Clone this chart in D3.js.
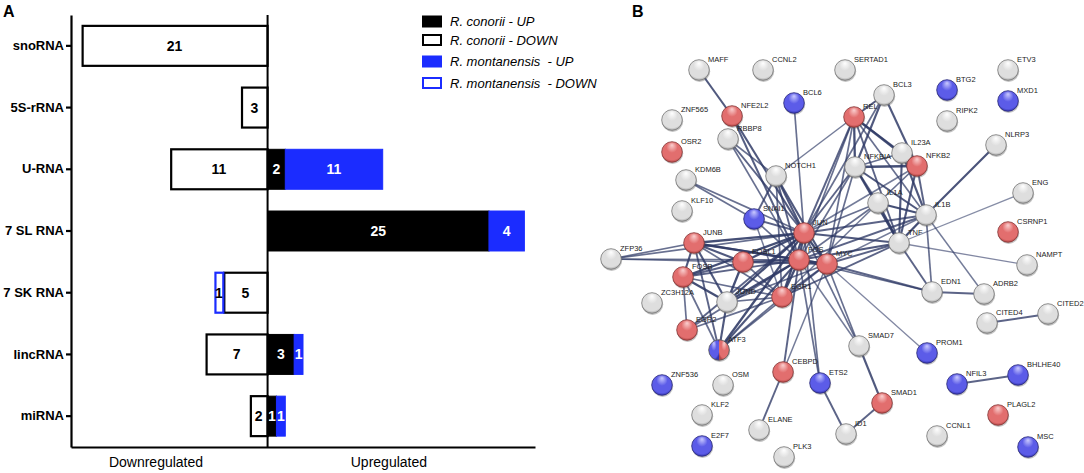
<!DOCTYPE html>
<html>
<head>
<meta charset="utf-8">
<script src="https://cdn.jsdelivr.net/npm/d3@7"></script>
<style>
  html, body { margin: 0; padding: 0; background: #fff; }
  svg { display: block; font-family: Arial, "Liberation Sans", sans-serif; }
</style>
</head>
<body>
<script>
// ---- panel A data ----
var categories = ["snoRNA", "5S-rRNA", "U-RNA", "7 SL RNA", "7 SK RNA", "lincRNA", "miRNA"];
var conoriiUp = [0, 0, 2, 25, 0, 3, 1];
var conoriiDown = [21, 3, 11, 0, 5, 7, 2];
var montanensisUp = [0, 0, 11, 4, 0, 1, 1];
var montanensisDown = [0, 0, 0, 0, 1, 0, 0];
var legendLabels = ["R. conorii - UP", "R. conorii - DOWN", "R. montanensis\u00a0 - UP", "R. montanensis\u00a0 - DOWN"];

// ---- panel B data (STRING network) ----
// name, layout x, layout y, group (0 none, 1 up, 2 down, 3 both)
var nodes = [
  ["MAFF", 99, 70, 0], ["CCNL2", 163, 70, 0], ["SERTAD1", 245, 70, 0], ["ETV3", 408, 70, 0],
  ["BTG2", 347, 90, 2], ["MXD1", 408, 101, 2], ["BCL6", 194, 103, 2], ["BCL3", 284, 95, 0],
  ["RIPK2", 347, 121, 0], ["NFE2L2", 132, 116, 1], ["ZNF565", 72, 120, 0], ["REL", 254, 117, 1],
  ["RBBP8", 128, 139, 0], ["OSR2", 72, 152, 1], ["NLRP3", 396, 145, 0], ["IL23A", 302, 153, 0],
  ["NFKB2", 317, 166, 1], ["NOTCH1", 176, 176, 0], ["KDM6B", 86, 180, 0], ["NFKBIA", 255, 167, 0],
  ["ENG", 423, 193, 0], ["IL1A", 278, 203, 0], ["KLF10", 82, 211, 0], ["IL1B", 326, 215, 0],
  ["SNAI1", 154, 219, 2], ["JUN", 204, 233, 1], ["CSRNP1", 408, 232, 1], ["TNF", 299, 243, 0],
  ["JUNB", 94, 243, 1], ["ZFP36", 11, 259, 0], ["FOSL1", 143, 262, 1], ["FOS", 199, 260, 1],
  ["MYC", 227, 264, 1], ["FOSB", 83, 277, 1], ["NAMPT", 427, 265, 0], ["EDN1", 332, 292, 0],
  ["ADRB2", 384, 294, 0], ["EGR1", 182, 297, 1], ["JUND", 127, 302, 0], ["ZC3H12A", 52, 303, 0],
  ["CITED4", 387, 323, 0], ["CITED2", 448, 314, 0], ["EGR2", 87, 330, 1], ["SMAD7", 259, 346, 0],
  ["ATF3", 119, 350, 3], ["PROM1", 327, 353, 2], ["CEBPD", 183, 372, 1], ["ZNF536", 62, 385, 2],
  ["OSM", 123, 385, 0], ["ETS2", 220, 383, 2], ["NFIL3", 357, 384, 2], ["BHLHE40", 418, 375, 2],
  ["SMAD1", 282, 403, 1], ["KLF2", 102, 415, 0], ["PLAGL2", 398, 415, 1], ["ELANE", 159, 430, 0],
  ["ID1", 246, 434, 0], ["CCNL1", 337, 436, 0], ["E2F7", 102, 446, 2], ["PLK3", 184, 457, 0],
  ["MSC", 428, 447, 2]
];
// source, target, combined score
var edges = [
  ["MAFF","NFE2L2",.9], ["NFE2L2","JUN",.9], ["NFE2L2","FOS",.85], ["RBBP8","JUN",.8], ["RBBP8","FOS",.7],
  ["RBBP8","NOTCH1",.7], ["BCL6","JUN",.7], ["NOTCH1","REL",.6], ["NOTCH1","JUN",.9], ["NOTCH1","FOS",.8],
  ["NOTCH1","MYC",.9], ["NOTCH1","SNAI1",.8], ["NOTCH1","EGR1",.7], ["KDM6B","SNAI1",.7], ["KDM6B","JUN",.7],
  ["SNAI1","JUN",.8], ["SNAI1","FOS",.7], ["SNAI1","EGR1",.6], ["REL","BCL3",.9], ["REL","NFKBIA",.99],
  ["REL","NFKB2",.99], ["REL","JUN",.8], ["REL","FOS",.7], ["REL","TNF",.8], ["REL","IL1B",.7],
  ["REL","IL23A",.7], ["REL","MYC",.7], ["BCL3","NFKBIA",.9], ["BCL3","NFKB2",.9], ["BCL3","JUN",.7],
  ["NFKBIA","NFKB2",.99], ["NFKBIA","IL23A",.7], ["NFKBIA","IL1A",.8], ["NFKBIA","IL1B",.9], ["NFKBIA","TNF",.99],
  ["NFKBIA","JUN",.8], ["NFKBIA","MYC",.7], ["NFKBIA","FOS",.7], ["IL23A","IL1B",.9], ["IL23A","TNF",.9],
  ["IL23A","NFKB2",.8], ["NFKB2","IL1B",.8], ["NFKB2","TNF",.9], ["NFKB2","IL1A",.7], ["NFKB2","JUN",.6],
  ["NLRP3","IL1B",.95], ["ENG","TNF",.45], ["IL1A","IL1B",.99], ["IL1A","TNF",.99], ["IL1A","JUN",.7],
  ["IL1A","EGR1",.6], ["IL1A","FOS",.7], ["IL1B","TNF",.99], ["IL1B","JUN",.8], ["IL1B","FOS",.8],
  ["IL1B","ADRB2",.6], ["IL1B","EDN1",.7], ["IL1B","MYC",.6], ["TNF","EDN1",.8], ["TNF","NAMPT",.5],
  ["TNF","MYC",.8], ["TNF","JUN",.9], ["TNF","FOS",.9], ["TNF","EGR1",.8], ["MYC","EDN1",.8],
  ["FOS","EDN1",.7], ["EDN1","ADRB2",.8], ["CITED4","CITED2",.8], ["NFIL3","BHLHE40",.8], ["MYC","PROM1",.5],
  ["MYC","SMAD7",.7], ["FOS","SMAD7",.6], ["JUN","SMAD7",.7], ["SMAD7","SMAD1",.9], ["SMAD1","ID1",.8],
  ["ETS2","ID1",.8], ["FOS","ETS2",.7], ["JUN","ETS2",.7], ["CEBPD","ELANE",.8], ["CEBPD","MYC",.6],
  ["CEBPD","FOS",.8], ["ATF3","JUN",.99], ["ATF3","FOS",.9], ["ATF3","JUNB",.8], ["ATF3","JUND",.9],
  ["ATF3","EGR1",.7], ["ATF3","FOSB",.7], ["ATF3","MYC",.7], ["ZFP36","JUNB",.7], ["ZFP36","FOS",.7],
  ["ZFP36","JUN",.7], ["ZFP36","FOSL1",.6], ["JUNB","FOS",.99], ["JUNB","JUN",.99], ["JUNB","FOSL1",.9],
  ["JUNB","FOSB",.9], ["JUNB","JUND",.9], ["JUNB","EGR1",.7], ["JUNB","MYC",.8], ["FOSL1","JUN",.99],
  ["FOSL1","FOS",.9], ["FOSL1","MYC",.8], ["FOSL1","JUND",.99], ["FOSL1","FOSB",.8], ["FOSL1","EGR1",.7],
  ["FOSB","JUND",.99], ["FOSB","JUN",.99], ["FOSB","FOS",.8], ["FOSB","EGR2",.7], ["FOSB","EGR1",.7],
  ["JUND","JUN",.99], ["JUND","FOS",.99], ["JUND","EGR1",.7], ["JUND","MYC",.7], ["EGR2","EGR1",.7],
  ["EGR2","JUN",.8], ["EGR2","FOS",.7], ["EGR1","JUN",.99], ["EGR1","FOS",.99], ["EGR1","MYC",.8],
  ["JUN","FOS",.99], ["JUN","MYC",.99], ["FOS","MYC",.99]
];

var W = 1084, H = 473;
var svg = d3.select("body").append("svg").attr("width", W).attr("height", H);
var defs = svg.append("defs");

var BLUE = "#1b2cff";

// =============== Panel A ===============
var gA = svg.append("g");
var x = d3.scaleLinear().domain([-22.2, 30.2]).range([71, 535]);
var y = d3.scaleBand().domain(categories).range([15, 447]).paddingInner(0.32).paddingOuter(0.16);

var rows = categories.map(function(c, i) {
  return {cat: c, cu: conoriiUp[i], cd: conoriiDown[i], mu: montanensisUp[i], md: montanensisDown[i]};
});

var segs = [];
rows.forEach(function(r) {
  if (r.cd) segs.push({cat: r.cat, x0: -r.cd, x1: 0, v: r.cd, fill: "#fff", stroke: "#000", txt: "#000"});
  if (r.md) segs.push({cat: r.cat, x0: -r.cd - r.md, x1: -r.cd, v: r.md, fill: "#fff", stroke: BLUE, txt: "#000"});
  if (r.cu) segs.push({cat: r.cat, x0: 0, x1: r.cu, v: r.cu, fill: "#000", stroke: "#000", txt: "#fff"});
  if (r.mu) segs.push({cat: r.cat, x0: r.cu, x1: r.cu + r.mu, v: r.mu, fill: BLUE, stroke: BLUE, txt: "#fff"});
});

gA.selectAll("rect.bar").data(segs).join("rect")
  .attr("class", "bar")
  .attr("x", function(d) { return x(d.x0) + (d.fill === "#fff" ? 1 : 0); })
  .attr("y", function(d) { return y(d.cat) + 1; })
  .attr("width", function(d) { return x(d.x1) - x(d.x0) - (d.fill === "#fff" ? 1 : 0); })
  .attr("height", y.bandwidth() - 2)
  .style("fill", function(d) { return d.fill; })
  .style("stroke", function(d) { return d.stroke; })
  .style("stroke-width", function(d) { return d.fill === "#fff" ? 2.2 : 1; });

gA.selectAll("text.val").data(segs).join("text")
  .attr("class", "val")
  .attr("x", function(d) { return (x(d.x0) + x(d.x1)) / 2; })
  .attr("y", function(d) { return y(d.cat) + y.bandwidth() / 2; })
  .attr("dy", "0.36em")
  .style("text-anchor", "middle")
  .style("font-weight", "bold")
  .style("font-size", "14px")
  .style("fill", function(d) { return d.txt; })
  .text(function(d) { return d.v; });

// axes
var yAxis = gA.append("g").attr("transform", "translate(" + x(-22.2) + ",0)")
  .call(d3.axisLeft(y).tickSize(5).tickSizeOuter(0).tickPadding(2));
yAxis.selectAll("text").style("font-size", "13px").style("font-weight", "bold").style("fill", "#000")
  .style("font-family", "Arial, 'Liberation Sans', sans-serif");
yAxis.selectAll("line,path").style("stroke", "#000").style("stroke-width", 2.2);

var xAxis = gA.append("g").attr("transform", "translate(0," + y.range()[1] + ")")
  .call(d3.axisBottom(x).tickValues([]).tickSizeOuter(0));
xAxis.selectAll("path").style("stroke", "#000").style("stroke-width", 2.2);

gA.append("line")
  .attr("x1", x(0)).attr("x2", x(0))
  .attr("y1", y.range()[0]).attr("y2", y.range()[1])
  .style("stroke", "#000").style("stroke-width", 2);

gA.append("text").attr("x", x(-12.6)).attr("y", 467).style("text-anchor", "middle")
  .style("font-size", "14px").text("Downregulated");
gA.append("text").attr("x", x(13.7)).attr("y", 467).style("text-anchor", "middle")
  .style("font-size", "14px").text("Upregulated");

// legend
var legY = [21.5, 40, 61.5, 83];
var legStyle = [
  {fill: "#000", stroke: "#000"}, {fill: "#fff", stroke: "#000"},
  {fill: BLUE, stroke: BLUE}, {fill: "#fff", stroke: BLUE}
];
var leg = gA.selectAll("g.leg").data(legendLabels).join("g").attr("class", "leg")
  .attr("transform", function(d, i) { return "translate(422," + legY[i] + ")"; });
leg.append("rect").attr("x", 1).attr("y", -5).attr("width", 18).attr("height", 10)
  .style("fill", function(d, i) { return legStyle[i].fill; })
  .style("stroke", function(d, i) { return legStyle[i].stroke; })
  .style("stroke-width", 2);
leg.append("text").attr("x", 28).attr("dy", "0.36em")
  .style("font-size", "13px").style("font-style", "italic").text(function(d) { return d; });

svg.append("text").attr("x", 3).attr("y", 17).style("font-size", "16px").style("font-weight", "bold").text("A");

// =============== Panel B ===============
var gB = svg.append("g");
svg.append("text").attr("x", 632).attr("y", 17).style("font-size", "16px").style("font-weight", "bold").text("B");

var bx = d3.scaleLinear().domain([0, 480]).range([600, 1080]);
var by = d3.scaleLinear().domain([0, 473]).range([0, 473]);
var R = 10.3;

var palettes = {
  grey: ["#ffffff", "#dedede", "#a4a4a4", "#767676"],
  red: ["#fad0d0", "#e26e6e", "#b24646", "#853636"],
  blue: ["#cacaff", "#5c5ce8", "#3434b0", "#28287a"]
};
Object.keys(palettes).forEach(function(k) {
  var p = palettes[k];
  var g = defs.append("radialGradient").attr("id", "g-" + k)
    .attr("cx", "50%").attr("cy", "40%").attr("r", "60%").attr("fx", "50%").attr("fy", "16%");
  g.append("stop").attr("offset", "0%").attr("stop-color", p[0]);
  g.append("stop").attr("offset", "45%").attr("stop-color", p[1]);
  g.append("stop").attr("offset", "85%").attr("stop-color", p[1]);
  g.append("stop").attr("offset", "100%").attr("stop-color", p[2]);
});

var byName = {};
nodes.forEach(function(n) { byName[n[0]] = n; });

var w = d3.scaleLinear().domain([0.4, 1]).range([1.1, 2.3]);
var op = d3.scaleLinear().domain([0.4, 1]).range([0.55, 0.9]);

gB.append("g").selectAll("line").data(edges).join("line")
  .attr("x1", function(d) { return bx(byName[d[0]][1]); })
  .attr("y1", function(d) { return by(byName[d[0]][2]); })
  .attr("x2", function(d) { return bx(byName[d[1]][1]); })
  .attr("y2", function(d) { return by(byName[d[1]][2]); })
  .style("stroke", "#2f3a66")
  .style("stroke-opacity", function(d) { return op(d[2]); })
  .style("stroke-width", function(d) { return w(d[2]); });

var groupPal = ["grey", "red", "blue"];
var ng = gB.append("g").selectAll("g").data(nodes).join("g")
  .attr("transform", function(d) { return "translate(" + bx(d[1]) + "," + by(d[2]) + ")"; });

// soft shadow
ng.append("circle").attr("cx", 0.6).attr("cy", 1.3).attr("r", R + 0.3)
  .style("fill", "#555").style("opacity", 0.35);

ng.each(function(d) {
  var g = d3.select(this);
  if (d[3] === 3) {
    var arc = d3.arc().innerRadius(0).outerRadius(R);
    g.append("path").attr("d", arc({startAngle: Math.PI, endAngle: 2 * Math.PI}))
      .style("fill", "url(#g-blue)");
    g.append("path").attr("d", arc({startAngle: 0, endAngle: Math.PI}))
      .style("fill", "url(#g-red)");
    g.append("circle").attr("r", R).style("fill", "none").style("stroke", "#555").style("stroke-width", 0.8);
  } else {
    var k = groupPal[d[3]];
    g.append("circle").attr("r", R)
      .style("fill", "url(#g-" + k + ")")
      .style("stroke", palettes[k][3]).style("stroke-width", 0.8);
  }
});

// labels on top of everything
gB.append("g").selectAll("text").data(nodes).join("text")
  .attr("x", function(d) { return bx(d[1]) + 9; })
  .attr("y", function(d) { return by(d[2]) - 8; })
  .style("font-size", "7.5px").style("fill", "#222")
  .text(function(d) { return d[0]; });
</script>
</body>
</html>
